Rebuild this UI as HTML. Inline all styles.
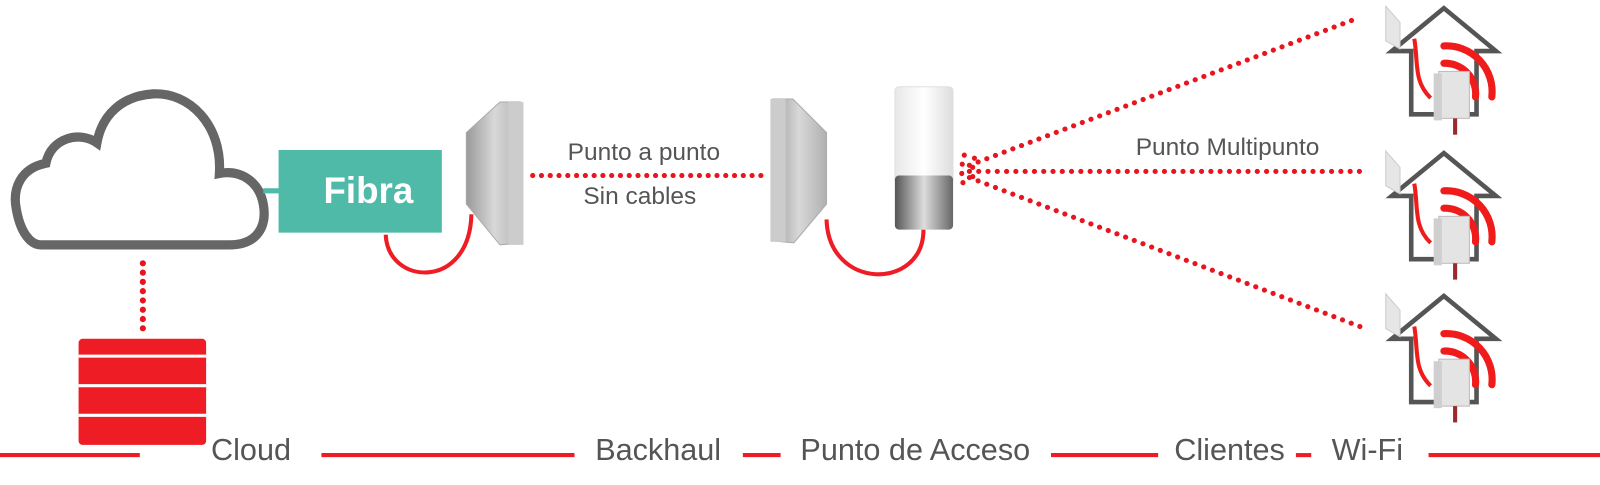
<!DOCTYPE html>
<html><head><style>
body{margin:0;width:1600px;height:480px;background:#fff;overflow:hidden}
</style></head><body>
<svg width="1600" height="480" viewBox="0 0 1568 470.4" xmlns="http://www.w3.org/2000/svg" font-family="Liberation Sans, sans-serif">
<defs>
<linearGradient id="ant" x1="0" x2="1"><stop offset="0" stop-color="#9a9a9a"/><stop offset=".5" stop-color="#d8d8d8"/><stop offset="1" stop-color="#b0b0b0"/></linearGradient>
<linearGradient id="cyl" x1="0" x2="1"><stop offset="0" stop-color="#555"/><stop offset=".5" stop-color="#ddd"/><stop offset="1" stop-color="#666"/></linearGradient>
<linearGradient id="cylt" x1="0" x2="1"><stop offset="0" stop-color="#e8e8e8"/><stop offset=".5" stop-color="#fff"/><stop offset="1" stop-color="#ddd"/></linearGradient>
<g id="house">
<path d="M1383 112 V50 H1364 L1415 8 L1466 50 H1447 V112 Z" fill="none" stroke="#555" stroke-width="4.5"/>
<path d="M1415 45 A45 45 0 0 1 1462 95" fill="none" stroke="#f01c1c" stroke-width="7" stroke-linecap="round"/>
<path d="M1415 62 A30 30 0 0 1 1446 95" fill="none" stroke="#f01c1c" stroke-width="7" stroke-linecap="round"/>
<path d="M1386 38 C1390 60 1385 80 1402 96" fill="none" stroke="#f01c1c" stroke-width="4"/>
<rect x="1410" y="70" width="30" height="46" fill="#e4e4e4" stroke="#bbb"/>
<rect x="1405" y="72" width="8" height="46" fill="#cfcfcf"/>
<path d="M1426 116 v16" stroke="#9b2a2a" stroke-width="4"/>
<path d="M1358 6 L1372 22 L1372 48 L1358 40 Z" fill="#e6e6e6" stroke="#ccc"/>
</g>
</defs>
<path d="M40 240 H225 C252 240 262 222 258 200 C254 178 236 166 215 170 C218 122 185 90 150 92 C120 94 100 112 95 140 C78 128 50 135 45 160 C20 165 12 185 16 205 C20 228 30 240 40 240 Z" fill="#fff" stroke="#666" stroke-width="9"/>
<line x1="258" y1="187" x2="274" y2="187" stroke="#4fbaa8" stroke-width="5"/>
<rect x="273" y="147" width="160" height="81" fill="#4fbaa8"/>
<text x="361" y="199" font-size="36" font-weight="bold" fill="#fff" text-anchor="middle">Fibra</text>
<line x1="140" y1="258" x2="140" y2="330" stroke="#e8141e" stroke-width="6" stroke-dasharray="0.1 9" stroke-linecap="round"/>
<rect x="77" y="332" width="125" height="104" rx="4" fill="#ee1c24"/>
<line x1="77" y1="349" x2="202" y2="349" stroke="#fff" stroke-width="3"/>
<line x1="77" y1="378" x2="202" y2="378" stroke="#fff" stroke-width="3"/>
<line x1="77" y1="407" x2="202" y2="407" stroke="#fff" stroke-width="3"/>
<path d="M378 230 C380 280 460 285 462 210" fill="none" stroke="#ee1c24" stroke-width="4"/>
<path d="M457 130 L490 100 L510 100 L512 238 L490 240 L457 200 Z" fill="url(#ant)" stroke="#aaa"/>
<rect x="498" y="100" width="15" height="140" fill="#ccc"/>
<line x1="522" y1="172" x2="750" y2="172" stroke="#e8141e" stroke-width="5" stroke-dasharray="0.1 8.5" stroke-linecap="round"/>
<text x="631" y="157" font-size="24" fill="#555" text-anchor="middle">Punto a punto</text>
<text x="627" y="200" font-size="24" fill="#555" text-anchor="middle">Sin cables</text>
<path d="M810 215 C812 285 905 285 905 225" fill="none" stroke="#ee1c24" stroke-width="4"/>
<path d="M810 130 L777 97 L757 97 L756 236 L778 238 L810 200 Z" fill="url(#ant)" stroke="#aaa"/>
<rect x="755" y="97" width="15" height="140" fill="#ccc"/>
<rect x="877" y="85" width="57" height="95" rx="4" fill="url(#cylt)" stroke="#e0e0e0"/>
<rect x="877" y="172" width="57" height="53" rx="4" fill="url(#cyl)"/>
<g stroke="#e8141e" stroke-width="5" stroke-dasharray="0.1 9" stroke-linecap="round" fill="none">
<line x1="950" y1="162" x2="1330" y2="18"/>
<line x1="950" y1="168" x2="1338" y2="168"/>
<line x1="950" y1="174" x2="1338" y2="322"/>
<path d="M945 152 Q940 168 945 184"/>
<path d="M955 155 Q951 168 955 181"/>
</g>
<text x="1203" y="152" font-size="24" fill="#555" text-anchor="middle">Punto Multipunto</text>
<use href="#house"/>
<use href="#house" y="142"/>
<use href="#house" y="282"/>
<g stroke="#ee1c24" stroke-width="4">
<line x1="0" y1="446" x2="137" y2="446"/>
<line x1="315" y1="446" x2="563" y2="446"/>
<line x1="728" y1="446" x2="765" y2="446"/>
<line x1="1030" y1="446" x2="1135" y2="446"/>
<line x1="1270" y1="446" x2="1285" y2="446"/>
<line x1="1400" y1="446" x2="1568" y2="446"/>
</g>
<g font-size="30" fill="#555" text-anchor="middle">
<text x="246" y="451">Cloud</text>
<text x="645" y="451">Backhaul</text>
<text x="897" y="451">Punto de Acceso</text>
<text x="1205" y="451">Clientes</text>
<text x="1340" y="451">Wi-Fi</text>
</g>
</svg>
</body></html>
